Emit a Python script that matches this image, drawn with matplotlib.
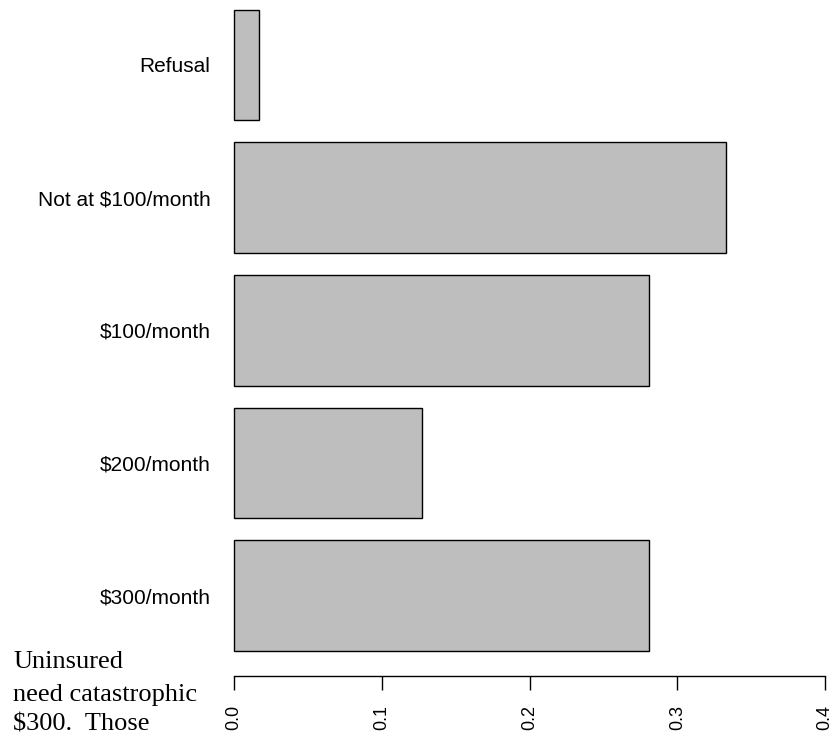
import matplotlib
matplotlib.use("Agg")
import matplotlib.pyplot as plt

# answer categories, top to bottom as drawn
categories = ["Refusal", "Not at $100/month", "$100/month", "$200/month", "$300/month"]
# share of respondents
shares = [0.017, 0.333, 0.281, 0.127, 0.281]
xticks = [0.0, 0.1, 0.2, 0.3, 0.4]
note_lines = ["Uninsured", "need catastrophic", "$300.  Those"]

W, H = 835, 736
fig = plt.figure(figsize=(W / 100, H / 100), dpi=100)

# axes box spans exactly the bar region (pixels measured on the reference)
left, right, top, bottom = 234, 825, 9.5, 651
ax = fig.add_axes([left / W, 1 - bottom / H, (right - left) / W, (bottom - top) / H])

ypos = list(range(len(categories)))[::-1]
bars = ax.barh(ypos, shares, height=1 / 1.2, color="#bebebe", edgecolor="black", linewidth=1.0)
for b in bars:
    b.set_clip_on(False)

ax.set_xlim(0, 0.4)
ax.set_ylim(-0.5 / 1.2, len(categories) - 1 + 0.5 / 1.2)

for side in ["top", "right", "left"]:
    ax.spines[side].set_visible(False)
ax.spines["bottom"].set_position(("outward", 18))
ax.spines["bottom"].set_bounds(0, 0.4)
ax.spines["bottom"].set_linewidth(1.0)

ax.set_xticks(xticks)
ax.set_xticklabels(["%.1f" % v for v in xticks], rotation=90, family="Liberation Sans", fontsize=13)
ax.tick_params(axis="x", length=10, width=1.0, pad=11)

ax.set_yticks(ypos)
ax.set_yticklabels(categories, family="Liberation Sans", fontsize=15)
ax.tick_params(axis="y", length=0, pad=17)

# stray note text in the lower left corner
for line, base in zip(note_lines, [668, 701, 731]):
    fig.text(13 / W, 1 - base / H, line, family="Liberation Serif", fontsize=19,
             ha="left", va="baseline")

fig.savefig("out.png", dpi=100)
